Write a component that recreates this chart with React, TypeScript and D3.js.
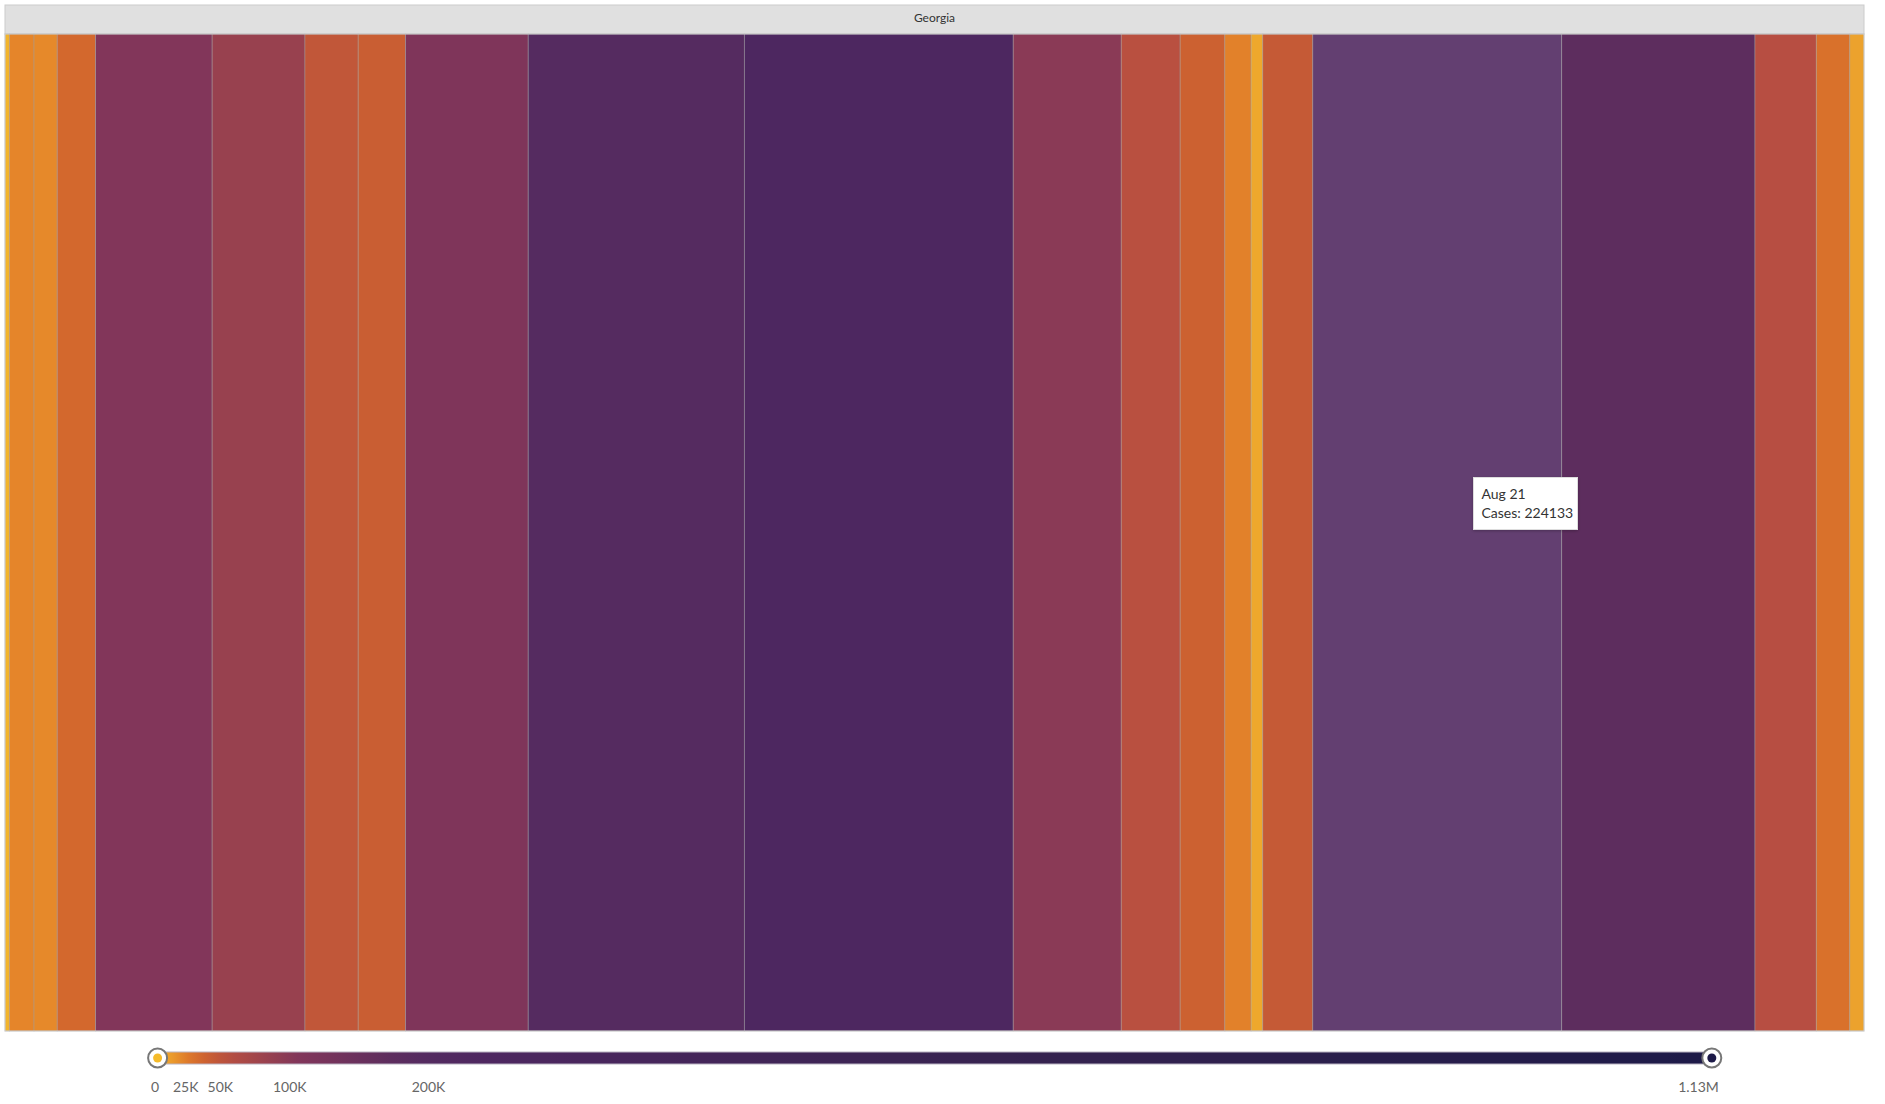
import React from "react";
import * as d3 from "d3";

const state = "Georgia";
const months = [
  "Mar 20", "Apr 20", "May 20", "Jun 20", "Jul 20", "Aug 20", "Sep 20", "Oct 20",
  "Nov 20", "Dec 20", "Jan 21", "Feb 21", "Mar 21", "Apr 21", "May 21", "Jun 21",
  "Jul 21", "Aug 21", "Sep 21", "Oct 21", "Nov 21", "Dec 21",
];
const cases = [
  3960, 22150, 20890, 34580, 104910, 83570, 47910, 42590,
  110490, 194600, 242060, 97250, 53040, 40250, 23680, 10450,
  45030, 224133, 173980, 55200, 30170, 12790,
];
const hoveredMonth = "Aug 21";

const colorStopValues = [0, 12000, 22000, 32000, 43000, 54000, 84000, 105000, 175000, 200000, 245000, 600000, 1130000];
const colorStopColors = [
  "#f5bb2a", "#eda52d", "#e5852a", "#d66c2b", "#c85d33", "#b84f41", "#98414f",
  "#82365a", "#5c2d5e", "#532a60", "#4d2760", "#372350", "#1d1a48",
];
const legendMax = 1130000;
const legendTicks = [0, 25000, 50000, 100000, 200000, 1130000];
const legendTickLabels = ["0", "25K", "50K", "100K", "200K", "1.13M"];

const W = 1885;
const H = 1104;
const plotLeft = 5;
const plotRight = 1864;
const headerTop = 5;
const plotTop = 34;
const plotBottom = 1031;
const font = "Lato, 'Open Sans', sans-serif";

export default function App() {
  const total = d3.sum(cases);
  const x = d3.scaleLinear().domain([0, total]).range([plotLeft, plotRight]);
  const ends = Array.from(d3.cumsum(cases));
  const color = d3
    .scaleLinear<string>()
    .domain(colorStopValues)
    .range(colorStopColors)
    .interpolate(d3.interpolateRgb)
    .clamp(true);

  const legendX = d3.scaleLinear().domain([0, legendMax]).range([151, 1718.8]);
  const barL = 157.6;
  const barR = 1711.8;
  const legendY = 1058;

  const hoverIdx = months.indexOf(hoveredMonth);
  const hx0 = x(hoverIdx > 0 ? ends[hoverIdx - 1] : 0);

  const gradStops = d3.range(0, 101).map((i) => {
    const px = barL + (i / 100) * (barR - barL);
    const v = legendX.invert(px);
    return { offset: i, c: color(Math.max(0, v)) };
  });

  return (
    <svg
      width={W}
      height={H}
      style={{ position: "absolute", left: 0, top: 0, background: "#fff" }}
      fontFamily={font}
    >
      <defs>
        <linearGradient id="lg" x1="0" x2="1" y1="0" y2="0">
          {gradStops.map((s) => (
            <stop key={s.offset} offset={`${s.offset}%`} stopColor={s.c} />
          ))}
        </linearGradient>
        <filter id="sh" x="-20%" y="-20%" width="140%" height="140%">
          <feDropShadow dx="0" dy="1" stdDeviation="1.5" floodColor="#000" floodOpacity="0.25" />
        </filter>
      </defs>

      {/* header */}
      <rect x={plotLeft} y={headerTop} width={plotRight - plotLeft} height={plotTop - headerTop} fill="#e0e0e0" stroke="#cccccc" strokeWidth={1} />
      <text x={(plotLeft + plotRight) / 2} y={22} textAnchor="middle" fontSize={12} fill="#333">
        {state}
      </text>

      {/* cells */}
      <g>
        {cases.map((c, i) => {
          const x0 = x(i > 0 ? ends[i - 1] : 0);
          const x1 = x(ends[i]);
          return (
            <rect
              key={months[i]}
              x={x0}
              y={plotTop}
              width={x1 - x0}
              height={plotBottom - plotTop}
              fill={color(c)}
              stroke="rgba(160,160,160,0.55)"
              strokeWidth={0.8}
            />
          );
        })}
        {hoverIdx >= 0 && (
          <rect
            x={hx0}
            y={plotTop}
            width={x(ends[hoverIdx]) - hx0}
            height={plotBottom - plotTop}
            fill="#fff"
            opacity={0.11}
          />
        )}
        <rect x={plotLeft} y={plotTop} width={plotRight - plotLeft} height={plotBottom - plotTop} fill="none" stroke="#cfcfcf" strokeWidth={1} />
      </g>

      {/* tooltip */}
      {hoverIdx >= 0 && (
        <g>
          <rect x={1473.5} y={477.5} width={104} height={52} fill="#fff" stroke="#dddddd" strokeWidth={1} filter="url(#sh)" />
          <text x={1481.5} y={499} fontSize={14} fill="#333">{months[hoverIdx]}</text>
          <text x={1481.5} y={517.5} fontSize={14} fill="#333">{`Cases: ${cases[hoverIdx]}`}</text>
        </g>
      )}

      {/* legend */}
      <g>
        <rect x={barL} y={legendY - 6} width={barR - barL} height={12} fill="url(#lg)" stroke="#b9b3c2" strokeWidth={1} />
        <circle cx={barL} cy={legendY} r={9.5} fill="#fff" stroke="#777" strokeWidth={2} />
        <circle cx={barL} cy={legendY} r={4.5} fill={color(0)} />
        <circle cx={barR} cy={legendY} r={9.5} fill="#fff" stroke="#777" strokeWidth={2} />
        <circle cx={barR} cy={legendY} r={4.5} fill={color(legendMax)} />
        {legendTicks.map((v, i) => (
          <text
            key={legendTickLabels[i]}
            x={legendX(v)}
            y={1091.5}
            fontSize={14}
            fill="#666"
            textAnchor={i === 0 ? "start" : i === legendTicks.length - 1 ? "end" : "middle"}
          >
            {legendTickLabels[i]}
          </text>
        ))}
      </g>
    </svg>
  );
}
